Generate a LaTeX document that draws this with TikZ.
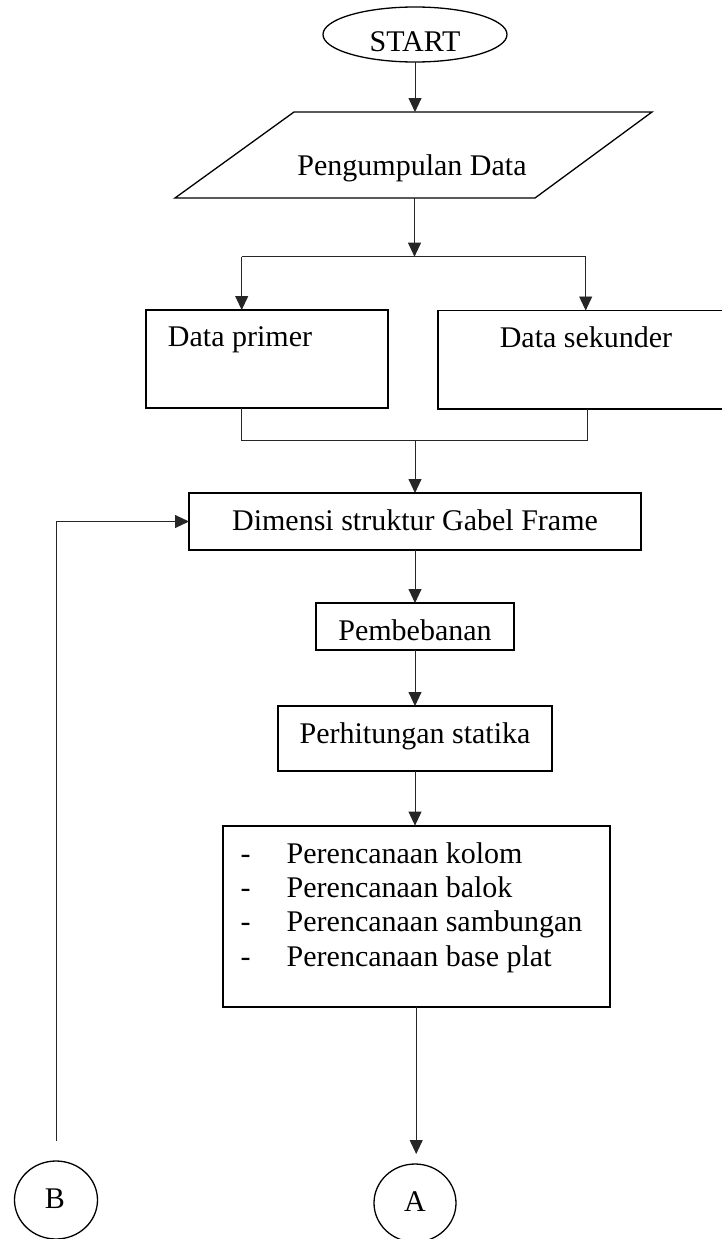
\documentclass[tikz,border=0pt]{standalone}
\usepackage{fontspec}
\setmainfont{Liberation Serif}
\usetikzlibrary{arrows.meta,shapes.geometric}
\begin{document}
\begin{tikzpicture}[x=1pt,y=-1pt,
  txt/.style={font=\fontsize{30}{34}\selectfont, inner sep=0pt, outer sep=0pt},
  boxnode/.style={draw=black, line width=1.3pt, inner sep=0pt, outer sep=0pt},
  ghost/.style={inner sep=0pt, outer sep=0pt},
  conn/.style={draw=black!85, line width=0.9pt},
  arr/.style={conn, -{Triangle[width=13pt,length=14pt]}},
  oval/.style={ellipse, draw=black, line width=1.3pt, inner sep=0pt, outer sep=0pt}]
\useasboundingbox (0,0) rectangle (722,1239);
\fill[white] (0,0) rectangle (722,1239);

% START
\node[oval, minimum width=184pt, minimum height=55pt] (start) at (415,34.5) {};
\node[txt, anchor=base] (starttxt) at (415,51.7) {START};

% Pengumpulan Data (parallelogram)
\node[ghost, minimum width=240pt, minimum height=86pt] (pd) at (414.5,155) {};
\draw[line width=1.3pt] (294,112) -- (652,112) -- (535,198) -- (175,198) -- cycle;
\node[txt, anchor=base] (pdtxt) at (412,175) {Pengumpulan Data};

% Data primer / sekunder
\node[boxnode, minimum width=242pt, minimum height=98pt] (dp) at (267,359) {};
\node[txt, anchor=base] (dptxt) at (240,346) {Data primer};
\node[boxnode, minimum width=302pt, minimum height=98.5pt] (ds) at (589,359.75) {};
\node[txt, anchor=base] (dstxt) at (586,347) {Data sekunder};

% Dimensi
\node[boxnode, minimum width=452pt, minimum height=57pt] (dim) at (415,521.5) {};
\node[txt, anchor=base] (dimtxt) at (415,530.7) {Dimensi struktur Gabel Frame};

% Pembebanan
\node[boxnode, minimum width=198pt, minimum height=47pt] (pem) at (415,626.5) {};
\node[txt, anchor=base] (pemtxt) at (415,640) {Pembebanan};

% Perhitungan statika
\node[boxnode, minimum width=274pt, minimum height=65pt] (per) at (415,738.5) {};
\node[txt, anchor=base] (pertxt) at (415,743) {Perhitungan statika};

% List box
\node[boxnode, line width=2.2pt, minimum width=387pt, minimum height=181pt] (list) at (416.2,916.1) {};
\node[txt, anchor=base] (d1) at (245.5,863.3) {-};
\node[txt, anchor=base] (d2) at (245.5,897.7) {-};
\node[txt, anchor=base] (d3) at (245.5,931.9) {-};
\node[txt, anchor=base] (d4) at (245.5,966.5) {-};
\node[txt, anchor=base west] (l1) at (286.7,863.3) {Perencanaan kolom};
\node[txt, anchor=base west] (l2) at (286.7,897.7) {Perencanaan balok};
\node[txt, anchor=base west] (l3) at (286.7,931.9) {Perencanaan sambungan};
\node[txt, anchor=base west] (l4) at (286.7,966.5) {Perencanaan base plat};

% Connectors A and B
\node[oval, minimum width=82pt, minimum height=78pt] (A) at (415,1203) {};
\node[txt, anchor=base] (Atxt) at (415,1211.7) {A};
\node[oval, minimum width=83pt, minimum height=78pt] (B) at (56,1200) {};
\node[txt, anchor=base] (Btxt) at (55,1208.3) {B};

% connectors
\draw[arr] (start.south) -- (start.south |- pd.north);
\coordinate (brL) at (241.7,256.7);
\coordinate (brR) at (585.7,256.7);
\coordinate (brC) at (414.5,256.7);
\draw[arr] (pd.south) -- (brC);
\draw[conn] (brL) -- (brR);
\draw[arr] (brL) -- (brL |- dp.north);
\draw[arr] (brR) -- (brR |- ds.north);
\coordinate (mgL) at (241.7,440);
\coordinate (mgR) at (587,440);
\coordinate (mgC) at (415,440);
\draw[conn] (dp.south -| mgL) -- (mgL) -- (mgR) -- (ds.south -| mgR);
\draw[arr] (mgC) -- (dim.north);
\draw[arr] (dim.south) -- (pem.north);
\draw[arr] (pem.south) -- (per.north);
\draw[arr] (per.south) -- (per.south |- list.north);
\draw[arr, shorten >=10pt] (list.south) -- (list.south |- A.north);
\draw[arr] ([yshift=20pt]B.north) |- (dim.west);
\end{tikzpicture}
\end{document}
